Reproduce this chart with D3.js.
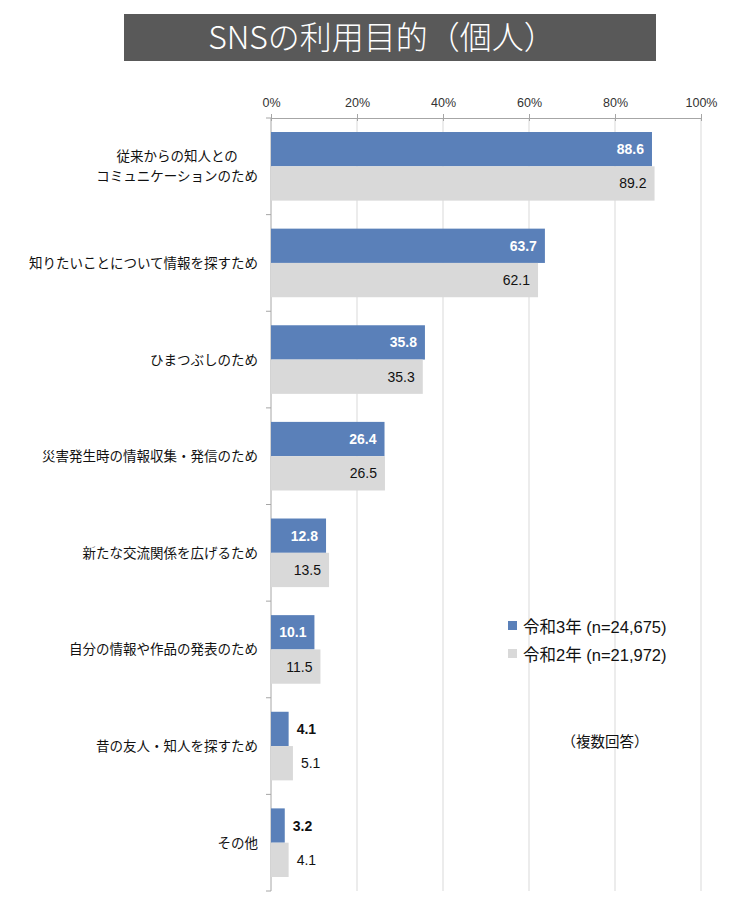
<!DOCTYPE html>
<html>
<head>
<meta charset="utf-8">
<script src="https://cdn.jsdelivr.net/npm/d3@7"></script>
<style>
  body { margin: 0; background: #fff; }
  text { font-family: "Liberation Sans", "Noto Sans CJK JP", sans-serif; }
  .jp { font-family: "Noto Sans CJK JP", sans-serif; }
</style>
</head>
<body>
<script>
// data
let categories = [
    "従来からの知人との\nコミュニケーションのため",
    "知りたいことについて情報を探すため",
    "ひまつぶしのため",
    "災害発生時の情報収集・発信のため",
    "新たな交流関係を広げるため",
    "自分の情報や作品の発表のため",
    "昔の友人・知人を探すため",
    "その他"
];
let seriesNames = ["令和3年 (n=24,675)", "令和2年 (n=21,972)"];
let r3 = [88.6, 63.7, 35.8, 26.4, 12.8, 10.1, 4.1, 3.2];
let r2 = [89.2, 62.1, 35.3, 26.5, 13.5, 11.5, 5.1, 4.1];
let ticks = [0, 20, 40, 60, 80, 100];

let colors = ["#5a80b9", "#d9d9d9"];

var svg = d3.select("body").append("svg")
    .attr("width", 744)
    .attr("height", 900);

// title box
svg.append("rect")
    .attr("x", 124).attr("y", 14)
    .attr("width", 532).attr("height", 47)
    .style("fill", "#595959");

svg.append("text")
    .attr("class", "jp")
    .attr("x", 382).attr("y", 49)
    .style("text-anchor", "middle")
    .style("fill", "white")
    .attr("font-size", "32px")
    .attr("font-weight", 300)
    .text("SNSの利用目的（個人）");

var margin = {top: 118, left: 271},
    width = 430,
    height = 773;

var g = svg.append("g")
    .attr("transform", "translate(" + margin.left + "," + margin.top + ")");

var x = d3.scaleLinear().domain([0, 100]).range([0, width]);
var y = d3.scaleBand().domain(d3.range(categories.length)).range([0, height]).paddingInner(0.29).paddingOuter(0.145);

// grid lines
g.selectAll(".grid").data(ticks.slice(1)).enter().append("line")
    .attr("x1", d => x(d)).attr("x2", d => x(d))
    .attr("y1", 0).attr("y2", height)
    .style("stroke", "#d9d9d9");

// top axis
var xAxis = g.append("g")
    .call(d3.axisTop(x).tickValues(ticks).tickFormat(d => d + "%").tickSize(4).tickSizeOuter(0));
xAxis.select(".domain").style("stroke", "#a6a6a6");
xAxis.selectAll(".tick line").style("stroke", "#a6a6a6").attr("y1", 3);
xAxis.selectAll(".tick text")
    .attr("font-size", "12.5px")
    .attr("font-family", "Liberation Sans, sans-serif")
    .style("fill", "#333")
    .attr("y", -11);

// left axis line with ticks between categories
g.append("line")
    .attr("x1", 0).attr("x2", 0).attr("y1", 0).attr("y2", height)
    .style("stroke", "#a6a6a6");
let step = height / categories.length;
g.selectAll(".ltick").data(d3.range(categories.length + 1)).enter().append("line")
    .attr("x1", -5).attr("x2", 0)
    .attr("y1", d => d * step).attr("y2", d => d * step)
    .style("stroke", "#a6a6a6");

let bh = y.bandwidth() / 2;

// bars
[r3, r2].forEach((vals, s) => {
    g.selectAll(".bar" + s).data(vals).enter().append("rect")
        .attr("x", 0)
        .attr("y", (d, i) => y(i) + s * bh)
        .attr("width", d => x(d))
        .attr("height", bh)
        .style("fill", colors[s]);

    g.selectAll(".lab" + s).data(vals).enter().append("text")
        .attr("x", d => x(d) < 36 ? x(d) + 8 : x(d) - 8)
        .attr("y", (d, i) => y(i) + s * bh + bh / 2 + 5)
        .style("text-anchor", d => x(d) < 36 ? "start" : "end")
        .attr("font-size", "14px")
        .attr("font-weight", s === 0 ? "bold" : "normal")
        .style("fill", d => (s === 0 && x(d) >= 36) ? "white" : "#111")
        .text(d => d.toFixed(1));
});

// category labels
categories.forEach((c, i) => {
    let lines = c.split("\n");
    let t = g.append("text")
        .attr("class", "jp")
        .attr("font-size", "13.5px")
        .style("fill", "#111");
    let cy = y(i) + y.bandwidth() / 2;
    lines.forEach((l, j) => {
        t.append("tspan").text(l)
            .attr("y", cy + 5 + (j - (lines.length - 1) / 2) * 20);
    });
    let maxW = 0;
    t.selectAll("tspan").each(function() { maxW = Math.max(maxW, this.getComputedTextLength()); });
    t.selectAll("tspan")
        .attr("x", -13 - maxW / 2)
        .style("text-anchor", "middle");
});

// legend
seriesNames.forEach((n, i) => {
    svg.append("rect")
        .attr("x", 508).attr("y", 621 + i * 28)
        .attr("width", 9).attr("height", 9)
        .style("fill", colors[i]);
    svg.append("text")
        .attr("x", 523).attr("y", 633 + i * 28)
        .attr("font-size", "16.5px")
        .style("fill", "#111")
        .text(n);
});

svg.append("text")
    .attr("class", "jp")
    .attr("x", 605).attr("y", 747)
    .style("text-anchor", "middle")
    .attr("font-size", "14.5px")
    .style("fill", "#111")
    .text("（複数回答）");
</script>
</body>
</html>
